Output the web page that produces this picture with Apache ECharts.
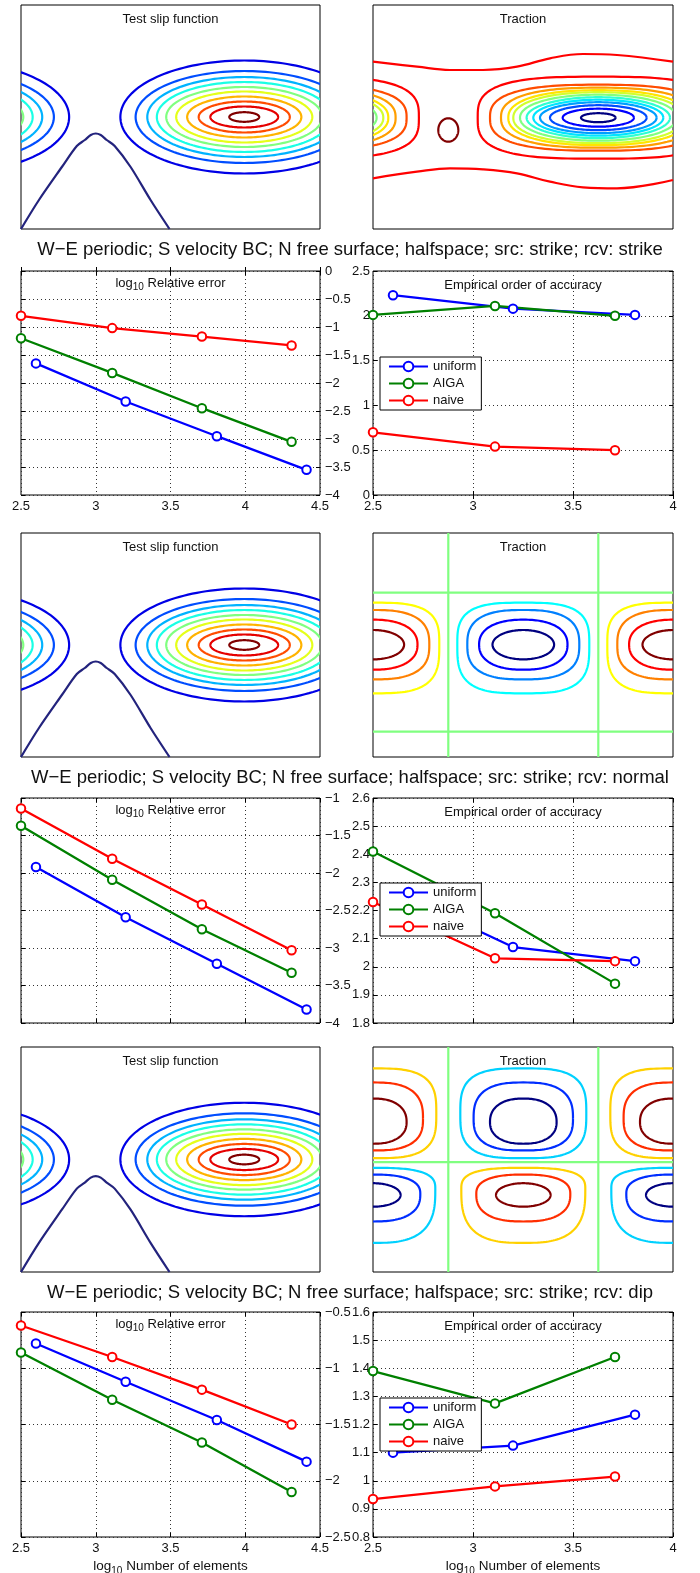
<!DOCTYPE html>
<html>
<head>
<meta charset="utf-8">
<script src="https://cdn.jsdelivr.net/npm/echarts/dist/echarts.min.js"></script>
<style>
  html, body { margin: 0; padding: 0; background: #fff; }
  #main { width: 700px; height: 1573px; }
</style>
</head>
<body>
<div id="main"></div>
<script>
const FONT = '"Liberation Sans", Arial, Helvetica, sans-serif';

// log10 number of elements
const nUniform = [2.6, 3.2, 3.81, 4.41];
const nOther = [2.5, 3.11, 3.71, 4.31];

// log10 relative error
const errStrikeUniform = [-1.65, -2.33, -2.95, -3.55];
const errStrikeAIGA = [-1.20, -1.82, -2.45, -3.05];
const errStrikeNaive = [-0.80, -1.02, -1.17, -1.33];
const errNormalUniform = [-1.92, -2.59, -3.21, -3.82];
const errNormalAIGA = [-1.37, -2.09, -2.75, -3.33];
const errNormalNaive = [-1.14, -1.81, -2.42, -3.03];
const errDipUniform = [-0.78, -1.12, -1.46, -1.83];
const errDipAIGA = [-0.86, -1.28, -1.66, -2.10];
const errDipNaive = [-0.62, -0.90, -1.19, -1.50];

// empirical order of accuracy
const rateStrikeUniform = [2.23, 2.08, 2.01];
const rateStrikeAIGA = [2.01, 2.11, 2.00];
const rateStrikeNaive = [0.70, 0.54, 0.50];
const rateNormalUniform = [2.27, 2.07, 2.02];
const rateNormalAIGA = [2.41, 2.19, 1.94];
const rateNormalNaive = [2.23, 2.03, 2.02];
const rateDipUniform = [1.10, 1.125, 1.235];
const rateDipAIGA = [1.39, 1.275, 1.44];
const rateDipNaive = [0.935, 0.98, 1.015];

const methodNames = ['uniform', 'AIGA', 'naive'];
const caseTitles = [
  'W\u2212E periodic; S velocity BC; N free surface; halfspace; src: strike; rcv: strike',
  'W\u2212E periodic; S velocity BC; N free surface; halfspace; src: strike; rcv: normal',
  'W\u2212E periodic; S velocity BC; N free surface; halfspace; src: strike; rcv: dip'
];
// axis ranges [min, max, step]
const errRange = [[-4, 0, 0.5], [-4, -1, 0.5], [-2.5, -0.5, 0.5]];
const rateRange = [[0, 2.5, 0.5], [1.8, 2.6, 0.1], [0.8, 1.6, 0.1]];

// contour data, panel units: x 0..300 across, y 0..224 down
// test slip function: nested ellipses, repeated every 300
const slipRx = [124.3, 109, 97.3, 87.7, 78.3, 68.3, 57.3, 45.7, 34, 15];
const slipRy = [56.5, 46, 40, 35, 30, 25.5, 20.5, 15.5, 10.5, 4.8];
const slipLevel = [0.1, 0.2, 0.3, 0.4, 0.5, 0.6, 0.7, 0.8, 0.9, 1.0];
const slipCenterX = [224, -76];
const slipCenterY = 112;
const slipRidge = [[0, 224], [18, 195], [41, 162], [56, 141], [64, 135], [70, 130], [75, 128.5],
  [80, 130], [86, 135], [94, 141], [110, 162], [130, 195], [149, 224]];

// traction, rcv strike
const tr1Rx = [17.3, 35.6, 48.3, 58.3, 65, 71.7, 78.3, 85, 90, 97.3, 108.3, 120.6];
const tr1Ry = [4.5, 9, 12.5, 15.5, 18, 20.5, 23, 25.5, 27.5, 30, 33, 41];
const tr1Shape = [2, 2, 2, 2, 2, 2, 2.1, 2.2, 2.3, 2.5, 2.7, 3.1];
const tr1Level = [0, 0.125, 0.2, 0.28, 0.35, 0.42, 0.5, 0.58, 0.65, 0.72, 0.8, 0.875];
const tr1CenterX = [225.3, -74.7];
const tr1CenterY = 112.7;
const tr1Peak = [75.3, 125, 10, 11.7, 11.7, 2, 1];
const tr1Upper = [[0, 56.7], [44, 61.7], [77, 65], [110, 65], [144, 61.7], [177, 53.3], [210, 49], [244, 50], [300, 56.7]];
const tr1Lower = [[0, 173.3], [44, 166.7], [77, 163.3], [110, 164.3], [144, 168.3], [177, 176.7], [210, 182.3], [244, 183.3], [300, 175]];

// traction, rcv normal
const tr2Rx = [30.8, 44.2, 56, 66];
const tr2RyTop = [14.7, 25, 34.7, 42];
const tr2RyBottom = [14.7, 25, 34.7, 48.6];
const tr2Shape = [2, 2.3, 2.7, 3.2];
const tr2CenterY = 111.7;
const tr2MidX = [150.3];
const tr2EdgeX = [0.3, 300.3];
const tr2LowLevel = [0, 0.125, 0.25, 0.375];
const tr2HighLevel = [1, 0.875, 0.75, 0.625];
const tr2ZeroX = [75.3, 225.3];
const tr2ZeroY = [59.7, 198.7];

// traction, rcv dip
const tr3TopCy = [74.7, 71.3, 66.3];
const tr3TopRx = [33.3, 49.7, 63];
const tr3TopRyT = [23.4, 36, 45];
const tr3TopRyB = [21.6, 31.7, 44.4];
const tr3TopShape = [2.3, 2.7, 3.2];
const tr3BotCy = [147.3, 146.3, 141.3];
const tr3BotRx = [27.3, 47, 62];
const tr3BotRyT = [11.7, 19.3, 21];
const tr3BotRyB = [11.7, 27.4, 53.7];
const tr3BotShape = [2, 2.5, 2.9];
const tr3Cool = [0, 0.17, 0.33];
const tr3Warm = [1, 0.83, 0.67];
const tr3ZeroX = [75.3, 225.3];
const tr3ZeroY = [114.7];

// ---------------------------------------------------------------
const COLORS = { uniform: '#0000ff', AIGA: '#008000', naive: '#ff0000' };
const LEFT = [21, 373];
const WIDTH = [299, 300];
const contourTop = [5, 533, 1047];
const contourHeight = [224, 224, 225];
const plotTop = [271, 798, 1312];
const plotHeight = [224, 225, 225];
const captionY = [250, 778, 1293];
const legendTop = [357, 883, 1398];

function jet(v) {
  const f = c => Math.round(255 * Math.max(0, Math.min(1, 1.5 - Math.abs(4 * v - c))));
  return 'rgb(' + f(3) + ',' + f(2) + ',' + f(1) + ')';
}

function fmt(v) {
  return String(Math.round(v * 100) / 100).replace('-', '\u2212');
}

function renderContour(params, api) {
  const cx = api.value(0), cy = api.value(1), rx = api.value(2);
  const ryT = api.value(3), ryB = api.value(4), p = api.value(5), lvl = api.value(6);
  const pts = [];
  for (let i = 0; i <= 160; i++) {
    const t = i / 160 * Math.PI * 2;
    const c = Math.cos(t), s = Math.sin(t);
    const dx = rx * Math.sign(c) * Math.pow(Math.abs(c), 2 / p);
    const dy = (s < 0 ? ryT : ryB) * Math.sign(s) * Math.pow(Math.abs(s), 2 / p);
    pts.push(api.coord([cx + dx, cy + dy]));
  }
  const cs = params.coordSys;
  return {
    type: 'polyline',
    shape: { points: pts },
    style: { stroke: jet(lvl), lineWidth: 2.2, fill: null },
    clipPath: { type: 'rect', shape: { x: cs.x, y: cs.y, width: cs.width, height: cs.height } }
  };
}

const grids = [], xAxes = [], yAxes = [], series = [], legends = [], texts = [];

function addGrid(left, top, width, height) {
  grids.push({
    left: left, top: top, width: width, height: height,
    show: true, borderColor: '#000', borderWidth: 1, backgroundColor: '#fff',
    containLabel: false, outerBoundsMode: 'none'
  });
  return grids.length - 1;
}

function text(x, y, t, size, rich) {
  return {
    type: 'text', x: x, y: y, z: 20, silent: true,
    style: { text: t, fontSize: size, fontFamily: FONT, fill: '#111', align: 'center', verticalAlign: 'middle', rich: rich }
  };
}

const subRich = {
  a: { fontSize: 13, fontFamily: FONT, color: '#111' },
  s: { fontSize: 10, fontFamily: FONT, color: '#111', padding: [9, 0, 0, 0] }
};

function addContourPanel(r, side, contours, curves, label) {
  const g = addGrid(LEFT[side], contourTop[r], WIDTH[side], contourHeight[r]);
  xAxes.push({ gridIndex: g, type: 'value', min: 0, max: 300, show: false });
  yAxes.push({ gridIndex: g, type: 'value', min: 0, max: 224, inverse: true, show: false });
  const xi = xAxes.length - 1, yi = yAxes.length - 1;
  series.push({
    type: 'custom', xAxisIndex: xi, yAxisIndex: yi, clip: true, silent: true,
    encode: { x: 0, y: 1 }, renderItem: renderContour, data: contours
  });
  curves.forEach(function (c) {
    series.push({
      type: 'line', xAxisIndex: xi, yAxisIndex: yi, data: c.points, smooth: c.smooth || false,
      symbol: 'none', silent: true, clip: true,
      lineStyle: { color: c.color || jet(c.level), width: 2.2 }
    });
  });
  texts.push(text(LEFT[side] + WIDTH[side] / 2, contourTop[r] + 14, label, 13));
}

function addPlot(r, side, range, xMax, lines, label, labelRich) {
  const g = addGrid(LEFT[side], plotTop[r], WIDTH[side], plotHeight[r]);
  const tick = { show: true, inside: true, length: 4, lineStyle: { color: '#000', width: 1 } };
  const dotted = { show: true, lineStyle: { color: '#333', width: 1, type: [1, 3] } };
  const lbl = { show: true, color: '#111', fontSize: 13, fontFamily: FONT, formatter: fmt, showMinLabel: true, showMaxLabel: true };
  const xi = xAxes.length;
  const xBottom = {
    gridIndex: g, type: 'value', min: 2.5, max: xMax, interval: 0.5, position: 'bottom',
    axisLine: { show: false }, axisTick: tick, splitLine: dotted,
    axisLabel: Object.assign({}, lbl, { show: r !== 1, margin: 5 })
  };
  if (r === 2) {
    xBottom.name = '{a|log}{s|10}{a| Number of elements}';
    xBottom.nameLocation = 'middle';
    xBottom.nameGap = 20;
    xBottom.nameTextStyle = {
      rich: {
        a: { fontSize: 13.5, fontFamily: FONT, color: '#111' },
        s: { fontSize: 10, fontFamily: FONT, color: '#111', padding: [9, 0, 0, 0] }
      }
    };
  }
  xAxes.push(xBottom);
  xAxes.push({
    gridIndex: g, type: 'value', min: 2.5, max: xMax, interval: 0.5, position: 'top',
    axisLine: { show: false }, axisTick: tick, splitLine: { show: false }, axisLabel: { show: false }
  });
  const yi = yAxes.length;
  const labelSide = side === 0 ? 'right' : 'left';
  yAxes.push({
    gridIndex: g, type: 'value', min: range[0], max: range[1], interval: range[2], position: labelSide,
    axisLine: { show: false }, axisTick: tick, splitLine: dotted,
    axisLabel: Object.assign({}, lbl, { margin: side === 0 ? 5 : 3 })
  });
  yAxes.push({
    gridIndex: g, type: 'value', min: range[0], max: range[1], interval: range[2],
    position: side === 0 ? 'left' : 'right',
    axisLine: { show: false }, axisTick: tick, splitLine: { show: false }, axisLabel: { show: false }
  });
  lines.forEach(function (l) {
    const color = COLORS[l.name];
    series.push({
      name: l.name, type: 'line', xAxisIndex: xi, yAxisIndex: yi,
      data: l.y.map(function (v, i) { return [l.x[i], v]; }),
      symbol: 'emptyCircle', symbolSize: 8.5, showSymbol: true, z: 3,
      lineStyle: { color: color, width: 2.3 },
      itemStyle: { color: color, borderColor: color, borderWidth: 2.2 },
      emphasis: { disabled: true }
    });
  });
  texts.push(text(LEFT[side] + WIDTH[side] / 2, plotTop[r] + (side === 0 ? 12 : 14), label, 13, labelRich));
}

// build contour item lists
function ring(cx, cy, rx, ryT, ryB, p, lvl) { return [cx, cy, rx, ryT, ryB, p, lvl]; }

const slipContours = [];
slipCenterX.forEach(function (cx) {
  slipRx.forEach(function (rx, i) { slipContours.push(ring(cx, slipCenterY, rx, slipRy[i], slipRy[i], 2, slipLevel[i])); });
});
const slipCurves = [{ points: slipRidge, smooth: 0.3, color: '#23237d' }];

const tr1Contours = [];
tr1CenterX.forEach(function (cx) {
  tr1Rx.forEach(function (rx, i) { tr1Contours.push(ring(cx, tr1CenterY, rx, tr1Ry[i], tr1Ry[i], tr1Shape[i], tr1Level[i])); });
});
tr1Contours.push(tr1Peak);
const tr1Curves = [
  { points: tr1Upper, smooth: 0.4, level: 0.875 },
  { points: tr1Lower, smooth: 0.4, level: 0.875 }
];

const tr2Contours = [];
tr2MidX.forEach(function (cx) {
  tr2Rx.forEach(function (rx, i) { tr2Contours.push(ring(cx, tr2CenterY, rx, tr2RyTop[i], tr2RyBottom[i], tr2Shape[i], tr2LowLevel[i])); });
});
tr2EdgeX.forEach(function (cx) {
  tr2Rx.forEach(function (rx, i) { tr2Contours.push(ring(cx, tr2CenterY, rx, tr2RyTop[i], tr2RyBottom[i], tr2Shape[i], tr2HighLevel[i])); });
});
const tr2Curves = [];
tr2ZeroX.forEach(function (x) { tr2Curves.push({ points: [[x, 0], [x, 224]], level: 0.5 }); });
tr2ZeroY.forEach(function (y) { tr2Curves.push({ points: [[0, y], [300, y]], level: 0.5 }); });

const tr3Contours = [];
[150.3].forEach(function (cx) {
  tr3TopRx.forEach(function (rx, i) { tr3Contours.push(ring(cx, tr3TopCy[i], rx, tr3TopRyT[i], tr3TopRyB[i], tr3TopShape[i], tr3Cool[i])); });
  tr3BotRx.forEach(function (rx, i) { tr3Contours.push(ring(cx, tr3BotCy[i], rx, tr3BotRyT[i], tr3BotRyB[i], tr3BotShape[i], tr3Warm[i])); });
});
[0.3, 300.3].forEach(function (cx) {
  tr3TopRx.forEach(function (rx, i) { tr3Contours.push(ring(cx, tr3TopCy[i], rx, tr3TopRyT[i], tr3TopRyB[i], tr3TopShape[i], tr3Warm[i])); });
  tr3BotRx.forEach(function (rx, i) { tr3Contours.push(ring(cx, tr3BotCy[i], rx, tr3BotRyT[i], tr3BotRyB[i], tr3BotShape[i], tr3Cool[i])); });
});
const tr3Curves = [];
tr3ZeroX.forEach(function (x) { tr3Curves.push({ points: [[x, 0], [x, 224]], level: 0.5 }); });
tr3ZeroY.forEach(function (y) { tr3Curves.push({ points: [[0, y], [300, y]], level: 0.5 }); });

const tractionContours = [tr1Contours, tr2Contours, tr3Contours];
const tractionCurves = [tr1Curves, tr2Curves, tr3Curves];

const errUniform = [errStrikeUniform, errNormalUniform, errDipUniform];
const errAIGA = [errStrikeAIGA, errNormalAIGA, errDipAIGA];
const errNaive = [errStrikeNaive, errNormalNaive, errDipNaive];
const rateUniform = [rateStrikeUniform, rateNormalUniform, rateDipUniform];
const rateAIGA = [rateStrikeAIGA, rateNormalAIGA, rateDipAIGA];
const rateNaive = [rateStrikeNaive, rateNormalNaive, rateDipNaive];

for (let r = 0; r < 3; r++) {
  addContourPanel(r, 0, slipContours, slipCurves, 'Test slip function');
  addContourPanel(r, 1, tractionContours[r], tractionCurves[r], 'Traction');
  texts.push(text(350, captionY[r], caseTitles[r], 18.5));

  addPlot(r, 0, errRange[r], 4.5, [
    { name: 'uniform', x: nUniform, y: errUniform[r] },
    { name: 'AIGA', x: nOther, y: errAIGA[r] },
    { name: 'naive', x: nOther, y: errNaive[r] }
  ], '{a|log}{s|10}{a| Relative error}', subRich);

  addPlot(r, 1, rateRange[r], 4, [
    { name: 'uniform', x: nUniform.slice(0, 3), y: rateUniform[r] },
    { name: 'AIGA', x: nOther.slice(0, 3), y: rateAIGA[r] },
    { name: 'naive', x: nOther.slice(0, 3), y: rateNaive[r] }
  ], 'Empirical order of accuracy');

  legends.push({
    data: methodNames, orient: 'vertical', left: 380, top: legendTop[r],
    padding: [3, 5, 3, 8], itemGap: 4, itemWidth: 39, itemHeight: 12,
    borderColor: '#000', borderWidth: 1, backgroundColor: '#fff', borderRadius: 0,
    selectedMode: false, z: 10,
    textStyle: { fontSize: 13, fontFamily: FONT, color: '#111' }
  });
}

const chart = echarts.init(document.getElementById('main'));
chart.setOption({
  animation: false,
  backgroundColor: '#fff',
  textStyle: { fontFamily: FONT },
  tooltip: { show: false },
  grid: grids,
  xAxis: xAxes,
  yAxis: yAxes,
  legend: legends,
  graphic: texts,
  series: series
});
</script>
</body>
</html>
